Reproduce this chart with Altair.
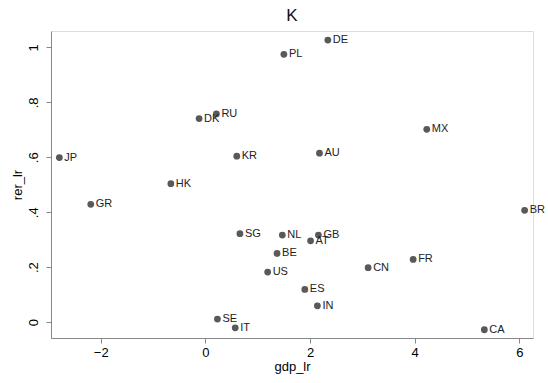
import altair as alt
import pandas as pd

# Country codes with log-ratio values
countries = ["JP", "DK", "RU", "KR", "HK", "DE", "PL", "MX", "AU", "GR", "SG", "SE",
             "IT", "US", "NL", "GB", "AT", "BE", "CN", "FR", "ES", "IN", "CA", "BR"]
gdp_lr = [-2.79, -0.12, 0.21, 0.60, -0.66, 2.34, 1.50, 4.23, 2.18, -2.19, 0.66, 0.23,
          0.57, 1.19, 1.47, 2.16, 2.01, 1.37, 3.11, 3.97, 1.90, 2.14, 5.33, 6.10]
rer_lr = [0.599, 0.741, 0.758, 0.604, 0.504, 1.027, 0.975, 0.702, 0.615, 0.429, 0.322, 0.011,
          -0.021, 0.182, 0.317, 0.317, 0.296, 0.250, 0.198, 0.228, 0.119, 0.059, -0.028, 0.407]

x_ticks = [-2, 0, 2, 4, 6]
y_ticks = [0, 0.2, 0.4, 0.6, 0.8, 1.0]

df = pd.DataFrame({"country": countries, "gdp_lr": gdp_lr, "rer_lr": rer_lr})

FONT = "Liberation Sans"

x_enc = alt.X(
    "gdp_lr:Q",
    title="gdp_lr",
    scale=alt.Scale(domain=[-2.95, 6.26], nice=False, zero=False),
    axis=alt.Axis(values=x_ticks, format="d", grid=False, tickSize=5,
                  labelPadding=3, titlePadding=1, labelFontSize=13, titleFontSize=13,
                  titleFontWeight="normal"),
)
y_enc = alt.Y(
    "rer_lr:Q",
    title="rer_lr",
    scale=alt.Scale(domain=[-0.058, 1.06], nice=False, zero=False),
    axis=alt.Axis(
        values=y_ticks, grid=False, tickSize=5, labelAngle=270,
        labelAlign="center", labelBaseline="bottom", labelPadding=6,
        labelExpr="datum.value == 0 ? '0' : (datum.value == 1 ? '1' : replace(format(datum.value, '.1f'), '0.', '.'))",
        labelFontSize=13, titleFontSize=13, titlePadding=3, titleFontWeight="normal",
    ),
)

base = alt.Chart(df).encode(x=x_enc, y=y_enc)

points = base.mark_circle(size=46, color="#595959", opacity=1)
labels = base.mark_text(align="left", baseline="middle", dx=5, fontSize=11,
                        font=FONT, color="#222222").encode(text="country:N")

chart = (
    alt.layer(points, labels)
    .properties(
        width=482, height=307,
        title=alt.TitleParams("K", fontSize=17, font=FONT, fontWeight="normal",
                              color="#111111", offset=6),
        autosize=alt.AutoSizeParams(type="none"),
        padding={"left": 51, "top": 31, "right": 15, "bottom": 45},
    )
    .configure_view(stroke="#333333", strokeWidth=1)
    .configure_axis(domainColor="#222222", domainWidth=1.5, tickColor="#222222",
                    labelColor="#111111", titleColor="#111111",
                    labelFont=FONT, titleFont=FONT)
    .configure(background="white")
)

chart.save("out.html", embed_options={"renderer": "svg", "actions": False})
